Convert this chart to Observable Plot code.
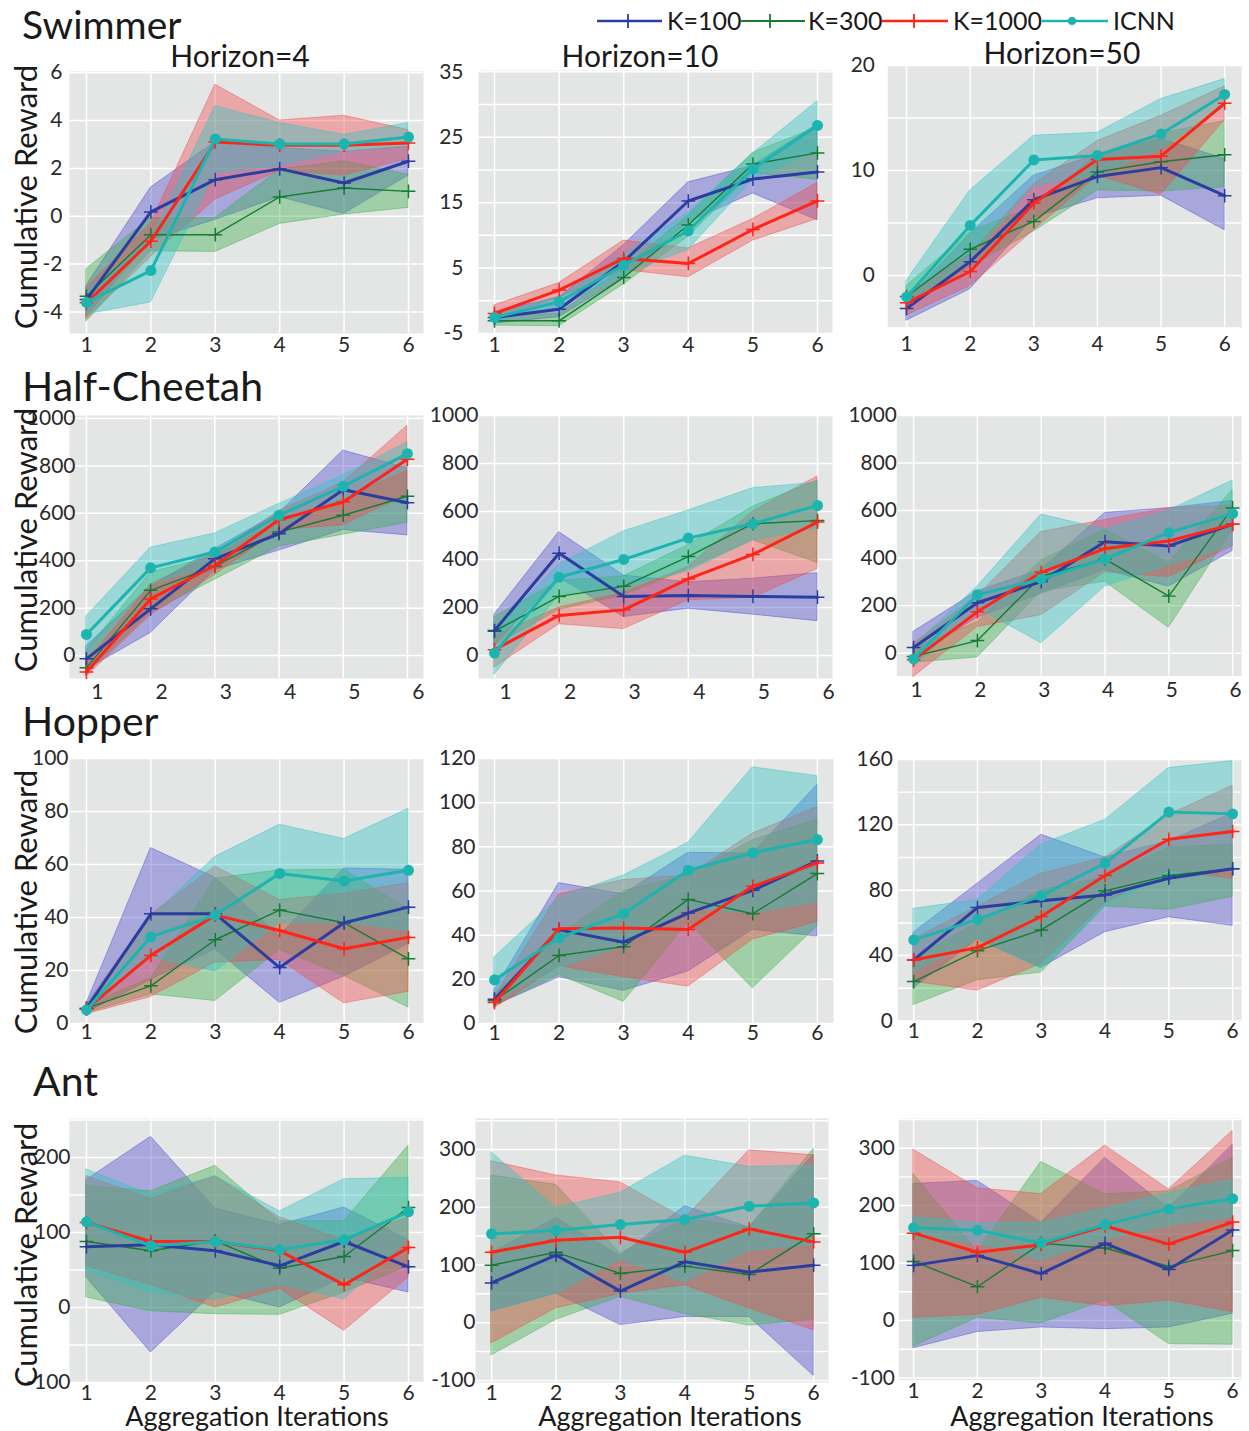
<!DOCTYPE html>
<html><head><meta charset="utf-8">
<script src="https://cdn.jsdelivr.net/npm/d3@7"></script>
<script src="https://cdn.jsdelivr.net/npm/@observablehq/plot@0.6"></script>
<style>
html,body{margin:0;padding:0;background:#fff;}
body{width:1249px;height:1431px;overflow:hidden;position:relative;font-family:Lato,"Open Sans",sans-serif;}
.panel{position:absolute;}
#overlay{position:absolute;left:0;top:0;pointer-events:none;}
</style></head>
<body>
<script>
// ---------------- DATA ----------------
const iterations = [1, 2, 3, 4, 5, 6];
const seriesNames = ["K=100", "K=300", "K=1000", "ICNN"];
const environments = ["Swimmer", "Half-Cheetah", "Hopper", "Ant"];
const horizons = [4, 10, 50];
const yTickLabels = [
  [[-4, -2, 0, 2, 4, 6], [-5, 5, 15, 25, 35], [0, 10, 20]],
  [[0, 200, 400, 600, 800, 1000], [0, 200, 400, 600, 800, 1000], [0, 200, 400, 600, 800, 1000]],
  [[0, 20, 40, 60, 80, 100], [0, 20, 40, 60, 80, 100, 120], [0, 40, 80, 120, 160]],
  [[-100, 0, 100, 200], [-100, 0, 100, 200, 300], [-100, 0, 100, 200, 300]]
];
const yGridValues = [
  [[-4, -2, 0, 2, 4, 6], [-5, 0, 5, 10, 15, 20, 25, 30, 35], [-5, 0, 5, 10, 15, 20]],
  [[0, 200, 400, 600, 800, 1000], [0, 200, 400, 600, 800, 1000], [0, 200, 400, 600, 800, 1000]],
  [[0, 20, 40, 60, 80, 100], [0, 20, 40, 60, 80, 100, 120], [0, 20, 40, 60, 80, 100, 120, 140, 160]],
  [[-100, -50, 0, 50, 100, 150, 200, 250], [-100, -50, 0, 50, 100, 150, 200, 250, 300, 350], [-100, -50, 0, 50, 100, 150, 200, 250, 300, 350]]
];

// rows in each array follow seriesNames: K=100, K=300, K=1000, ICNN
const swimmer4_mean = [[-3.48, 0.18, 1.53, 1.98, 1.39, 2.3], [-3.34, -0.77, -0.77, 0.81, 1.18, 1.04], [-3.62, -1.04, 3.1, 2.97, 2.97, 3.06], [-3.6, -2.27, 3.23, 3.02, 3.02, 3.31]];
const swimmer4_lo = [[-4.2, -1.0, -0.15, 0.8, 0.1, 1.7], [-4.4, -1.46, -1.49, -0.32, 0.07, 0.35], [-4.3, -1.7, 0.7, 1.9, 1.7, 2.4], [-4.1, -3.6, 1.8, 2.1, 2.7, 2.9]];
const swimmer4_hi = [[-2.9, 1.2, 3.1, 2.85, 2.7, 2.9], [-2.2, -0.07, -0.07, 1.95, 2.3, 1.74], [-3.0, -0.3, 5.5, 4.0, 4.2, 3.6], [-3.1, -1.0, 4.6, 3.9, 3.4, 3.9]];

const swimmer10_mean = [[-2.55, -1.3, 6.0, 15.25, 18.6, 19.7], [-3.06, -3.06, 3.57, 11.6, 20.9, 22.6], [-1.94, 1.63, 6.48, 5.7, 10.9, 15.26], [-2.55, -0.15, 5.45, 10.7, 20.15, 26.8]];
const swimmer10_lo = [[-3.5, -2.5, 3.5, 12, 16.4, 12.3], [-3.8, -3.9, 2.5, 9.8, 19.5, 18.5], [-3.0, 0.5, 4.7, 3.6, 9.2, 12.5], [-3.2, -1.0, 4.0, 7.8, 18.5, 23]];
const swimmer10_hi = [[-1.7, 0.5, 8.5, 18.1, 20.6, 27], [-2.3, -2.0, 5.0, 13, 22.6, 26.5], [-0.7, 2.7, 9.2, 8.0, 12.5, 18.0], [-1.9, 0.6, 7.0, 13.5, 22.5, 30.5]];

const swimmer50_mean = [[-3.14, 1.32, 7.22, 9.42, 10.27, 7.6], [-2.0, 2.5, 5.15, 9.86, 10.83, 11.5], [-2.6, 0.38, 6.9, 11.05, 11.36, 16.4], [-2.04, 4.77, 11.0, 11.43, 13.47, 17.24]];
const swimmer50_lo = [[-4.3, -1.3, 5.5, 7.35, 7.6, 4.3], [-3.0, 0.8, 4.2, 8.1, 8.0, 8.4], [-3.8, -1.0, 4.3, 9.5, 7.7, 14.8], [-2.8, 1.5, 8.5, 9.5, 12, 16]];
const swimmer50_hi = [[-2.4, 4.0, 9.5, 11.5, 13, 11.1], [-1.0, 4.2, 6.5, 11.5, 13.5, 14.7], [-1.8, 2.0, 8.7, 12.8, 15.2, 18.0], [-0.5, 8.1, 13.3, 13.6, 16.8, 18.7]];

const cheetah4_mean = [[-14, 197, 408, 514, 700, 645], [-52, 275, 376, 521, 592, 672], [-70, 239, 380, 573, 648, 828], [89, 370, 437, 592, 714, 852]];
const cheetah4_lo = [[-60, 95, 360, 443, 530, 507], [-80, 180, 320, 460, 510, 560], [-90, 170, 340, 530, 550, 680], [20, 300, 380, 540, 660, 790]];
const cheetah4_hi = [[40, 290, 450, 600, 865, 790], [20, 350, 420, 570, 660, 780], [-30, 300, 430, 610, 730, 970], [165, 455, 515, 640, 760, 900]];

const cheetah10_mean = [[104, 426, 246, 250, 246, 243], [101, 246, 288, 412, 549, 562], [24, 167, 190, 319, 421, 556], [10, 326, 400, 489, 549, 625]];
const cheetah10_lo = [[40, 326, 160, 195, 170, 143], [40, 190, 250, 360, 480, 386], [-50, 130, 110, 230, 240, 360], [-80, 250, 290, 350, 480, 530]];
const cheetah10_hi = [[171, 514, 333, 305, 320, 343], [160, 310, 330, 460, 620, 729], [80, 200, 260, 370, 600, 746], [100, 380, 517, 604, 697, 720]];

const cheetah50_mean = [[24, 212, 301, 469, 451, 542], [-14, 53, 324, 396, 240, 611], [-28, 174, 340, 440, 472, 542], [-24, 246, 312, 396, 507, 587]];
const cheetah50_lo = [[-20, 150, 250, 350, 280, 430], [-40, -18, 260, 300, 107, 520], [-100, 110, 160, 340, 320, 450], [-60, 190, 42, 280, 370, 450]];
const cheetah50_hi = [[90, 260, 350, 590, 610, 640], [20, 130, 390, 520, 380, 687], [40, 240, 510, 560, 610, 620], [30, 280, 583, 520, 600, 726]];

const hopper4_mean = [[5.7, 41.4, 41.4, 21.1, 38, 43.9], [5.7, 14.2, 31.6, 42.8, 38, 24.4], [5.4, 25.7, 40.9, 35.1, 28.2, 32.5], [5.1, 32.7, 40.9, 56.6, 53.8, 57.8]];
const hopper4_lo = [[4, 16.5, 28, 7.8, 17.7, 30], [4, 11, 8.5, 27.8, 18, 6], [3.5, 10, 23, 24, 7.6, 12], [4, 25, 19.6, 38, 38, 35]];
const hopper4_hi = [[7.5, 66.2, 55, 33, 58.5, 58], [7, 17, 54.7, 57.8, 58, 43], [7, 41, 59.2, 46.6, 49, 53], [7, 40, 62.9, 75, 69.6, 81]];

const hopper10_mean = [[11, 42.4, 36.8, 50, 60.3, 73.6], [10.3, 30.8, 34.8, 56.2, 49.7, 67.9], [9.5, 42.9, 43.3, 42.6, 62.1, 72.7], [19.8, 38.8, 49.7, 69.4, 77.3, 83.3]];
const hopper10_lo = [[8, 20.9, 14.8, 23.6, 42.4, 39.4], [8, 22, 9.8, 45.9, 16, 44], [7, 26, 21, 16.7, 38, 46], [10, 25, 35, 52, 50, 55]];
const hopper10_hi = [[15, 63.6, 58.5, 77.3, 77, 108], [13, 40, 60, 67, 83, 92.4], [12, 58.5, 65, 67, 86, 98], [30, 57, 67, 81.8, 116, 112]];

const hopper50_mean = [[37.3, 69.4, 73.5, 77.1, 87.3, 93.1], [24.1, 43, 55.7, 79.6, 89, 93.1], [37.3, 44.9, 63.9, 89, 111.2, 115.9], [49.6, 62.2, 76.7, 96.5, 127.8, 126.7]];
const hopper50_lo = [[20, 50, 32.6, 54.3, 63.5, 58.2], [9.8, 25, 29.6, 70, 68, 76], [24, 18.6, 35, 72, 92, 87], [30, 50, 32, 70, 90, 92]];
const hopper50_hi = [[54, 84, 113.9, 100, 110, 127], [38, 60, 80, 88, 106, 108], [50, 70, 90, 100, 126, 143.9], [68.6, 74, 108, 123, 154.7, 159]];

const ant4_mean = [[81, 83.6, 75.6, 55.6, 88, 54.2], [88, 75.6, 88.9, 52.4, 68, 133.3], [113.3, 88, 88, 75.6, 30.2, 80], [114.2, 82.2, 88, 76.9, 90.2, 127.6]];
const ant4_lo = [[40, -60, 21.3, 0, 40, 20], [13.3, -5, -8.9, -9.8, 20, 55], [55, 30, 0, 25, -31, 40], [50, 20, 10, 30, 11, 90]];
const ant4_hi = [[170, 227.6, 132, 110, 133.3, 90], [162, 155, 188.9, 115, 115, 215.6], [175, 145, 175, 120, 90, 120], [184, 150, 175, 128, 171, 173]];

const ant10_mean = [[69, 117, 54.8, 105.5, 87.6, 99.7], [99.7, 122, 85.3, 98, 83.6, 153.9], [122, 143, 148, 122, 162.5, 140], [153.9, 159.7, 170, 178.7, 201.7, 207.5]];
const ant10_lo = [[20, 50.7, -4, 10, 10, -92], [-56.5, 5, 45, 15, -5, 5], [-35.7, 25, 50, 65, 25, -13], [20, 50, 110, 70, 125, 135]];
const ant10_hi = [[120, 181.6, 115, 201.7, 165, 291], [254.8, 239, 120, 180, 165, 300.9], [279.5, 255, 243, 180, 298.6, 290], [295, 198.8, 225, 289.3, 270, 272]];

const ant50_mean = [[96, 113, 81.7, 134.3, 89, 157.7], [102.9, 58.9, 134.3, 126.3, 94.3, 121.7], [152, 118.9, 132, 164.6, 133, 171.4], [161.7, 157, 135, 167, 194.3, 212]];
const ant50_lo = [[-48, -20, -12, -15, -12, 12], [-45, 5, -5, 35, -41, -42], [5, 10, 40, 25, 35, 15], [145, 135, 105, 140, 165, 180]];
const ant50_hi = [[237.7, 243, 170, 283, 195, 306], [255, 120, 276, 220, 225, 283], [297, 230, 220, 304.6, 228, 330], [180, 170, 170, 195, 222, 245]];

const panelData = [
  [[swimmer4_mean, swimmer4_lo, swimmer4_hi], [swimmer10_mean, swimmer10_lo, swimmer10_hi], [swimmer50_mean, swimmer50_lo, swimmer50_hi]],
  [[cheetah4_mean, cheetah4_lo, cheetah4_hi], [cheetah10_mean, cheetah10_lo, cheetah10_hi], [cheetah50_mean, cheetah50_lo, cheetah50_hi]],
  [[hopper4_mean, hopper4_lo, hopper4_hi], [hopper10_mean, hopper10_lo, hopper10_hi], [hopper50_mean, hopper50_lo, hopper50_hi]],
  [[ant4_mean, ant4_lo, ant4_hi], [ant10_mean, ant10_lo, ant10_hi], [ant50_mean, ant50_lo, ant50_hi]]
];

// ---------------- LAYOUT / STYLE ----------------
const lineColors = ["#2b3d9f", "#177a35", "#ff2418", "#1db4b0"];
const bandColors = ["#4b4bd0", "#3aae4a", "#f04a4a", "#2ec4c0"];
const lineWidths = [3, 1.4, 3, 3];
const drawOrder = [1, 0, 2, 3];

// plot frames [x0, x1, y0, y1] in page pixels
const frames = [
  [[69, 423, 71, 333], [478, 832, 70, 333], [888, 1245, 65, 330]],
  [[69, 423, 415, 678], [478, 832, 415, 678], [897, 1245, 415, 678]],
  [[69, 423, 758, 1023], [478, 833, 758, 1023], [898, 1245, 759, 1023]],
  [[69, 423, 1118, 1382], [475, 828, 1118, 1382], [899, 1245, 1118, 1382]]
];
const xDomains = [
  [[0.736, 6.233], [0.752, 6.232], [0.704, 6.265]],
  [[0.736, 6.25], [0.752, 6.232], [0.736, 6.14]],
  [[0.736, 6.233], [0.752, 6.25], [0.75, 6.14]],
  [[0.736, 6.233], [0.75, 6.23], [0.767, 6.14]]
];
const yDomains = [
  [[-4.9, 6.05], [-5, 35.2], [-5, 20]],
  [[-97, 1013], [-96, 1000], [-96, 1000]],
  [[0, 100], [0, 120], [0, 160]],
  [[-100, 252], [-103.5, 353.7], [-103.4, 351.7]]
];
const yPads = [[7, 15, 13], [-6, 0, 0], [1, 3, 5], [-1, 0, 4]];
const xPads = [[4, 4, 8], [6, 6, 6], [1, 2, 2], [3, 3, 3]];
const xDx = [[0, 0, 0], [11, 11, 3], [0, 0, 0], [0, 0, 0]];

const ML = 80, MR = 8, MT = 8, MB = 44;

function makePanel(r, c) {
  const [mean, lo, hi] = panelData[r][c];
  const [fx0, fx1, fy0, fy1] = frames[r][c];
  const rows = seriesNames.map((s, si) => iterations.map((it, i) => ({series: s, it, mean: mean[si][i], lo: lo[si][i], hi: hi[si][i]})));
  const marks = [
    Plot.frame({fill: "#e4e5e5", stroke: null}),
    Plot.gridX(iterations, {stroke: "#ffffff", strokeOpacity: 1, strokeWidth: 1.5}),
    Plot.gridY(yGridValues[r][c], {stroke: "#ffffff", strokeOpacity: 1, strokeWidth: 1.5})
  ];
  seriesNames.forEach((s, si) => {
    marks.push(Plot.areaY(rows[si], {x: "it", y1: "lo", y2: "hi", fill: bandColors[si], fillOpacity: 0.4, stroke: bandColors[si], strokeOpacity: 0.45, strokeWidth: 1}));
  });
  drawOrder.forEach(si => {
    marks.push(Plot.lineY(rows[si], {x: "it", y: "mean", stroke: lineColors[si], strokeWidth: lineWidths[si]}));
    if (si === 3) {
      marks.push(Plot.dot(rows[si], {x: "it", y: "mean", r: 5.5, fill: lineColors[si], stroke: null}));
    } else {
      marks.push(Plot.dot(rows[si], {x: "it", y: "mean", symbol: "plus", r: 4.5, stroke: lineColors[si], strokeWidth: 1.5}));
    }
  });
  marks.push(Plot.axisX(iterations, {tickSize: 0, tickPadding: xPads[r][c], dx: xDx[r][c], tickFormat: d => String(d), label: null, fontSize: 21}));
  marks.push(Plot.axisY(yTickLabels[r][c], {tickSize: 0, tickPadding: yPads[r][c], tickFormat: d => String(d), label: null, fontSize: 21}));

  const svg = Plot.plot({
    width: fx1 - fx0 + ML + MR,
    height: fy1 - fy0 + MT + MB,
    marginLeft: ML, marginRight: MR, marginTop: MT, marginBottom: MB,
    style: {background: "transparent", fontFamily: "Lato, 'Open Sans', sans-serif", fontSize: "21px", color: "#2a2a2a", overflow: "visible"},
    x: {domain: xDomains[r][c], label: null},
    y: {domain: yDomains[r][c], label: null},
    marks
  });
  const div = document.createElement("div");
  div.className = "panel";
  div.style.left = (fx0 - ML) + "px";
  div.style.top = (fy0 - MT) + "px";
  div.appendChild(svg);
  document.body.appendChild(div);
}

for (let r = 0; r < 4; r++) for (let c = 0; c < 3; c++) makePanel(r, c);

// ---------------- TEXT OVERLAY ----------------
const titlePos = [[22, 39], [22, 401], [22, 736], [33, 1096]];
const horizonPos = [[240, 67], [640, 67], [1062, 64]];
const yLabelPos = [[37, 197], [37, 540], [37, 902], [37, 1255]];
const xLabelPos = [[257, 1426], [670, 1426], [1082, 1426]];
const legendPos = [[597, 662, 628, 667], [740, 805, 770, 808], [882, 948, 914, 953], [1042, 1108, 1072, 1113]];

const NS = "http://www.w3.org/2000/svg";
const ov = document.createElementNS(NS, "svg");
ov.setAttribute("id", "overlay");
ov.setAttribute("width", 1249);
ov.setAttribute("height", 1431);
ov.style.fontFamily = "Lato, 'Open Sans', sans-serif";
document.body.appendChild(ov);
function txt(s, x, y, size, anchor, extra) {
  const t = document.createElementNS(NS, "text");
  t.setAttribute("x", x); t.setAttribute("y", y);
  t.setAttribute("font-size", size);
  t.setAttribute("fill", "#1a1a1a");
  t.setAttribute("text-anchor", anchor || "start");
  if (extra) for (const k in extra) t.setAttribute(k, extra[k]);
  t.textContent = s;
  ov.appendChild(t);
  return t;
}
environments.forEach((e, i) => txt(e, titlePos[i][0], titlePos[i][1], i === 0 ? 39 : 41));
horizons.forEach((h, i) => txt("Horizon=" + h, horizonPos[i][0], horizonPos[i][1], 30, "middle"));
yLabelPos.forEach(([x, y]) => txt("Cumulative Reward", 0, 0, 31, "middle", {transform: `translate(${x},${y}) rotate(-90)`}));
xLabelPos.forEach(([x, y]) => txt("Aggregation Iterations", x, y, 27, "middle"));
seriesNames.forEach((s, i) => {
  const [l0, l1, mx, tx] = legendPos[i];
  const ln = document.createElementNS(NS, "line");
  ln.setAttribute("x1", l0); ln.setAttribute("x2", l1);
  ln.setAttribute("y1", 21); ln.setAttribute("y2", 21);
  ln.setAttribute("stroke", lineColors[i]); ln.setAttribute("stroke-width", i === 1 ? 2 : 2.5);
  ov.appendChild(ln);
  if (i === 3) {
    const c = document.createElementNS(NS, "circle");
    c.setAttribute("cx", mx); c.setAttribute("cy", 21); c.setAttribute("r", 4);
    c.setAttribute("fill", lineColors[i]);
    ov.appendChild(c);
  } else {
    const p = document.createElementNS(NS, "path");
    p.setAttribute("d", `M${mx - 7},21H${mx + 7}M${mx},14V28`);
    p.setAttribute("stroke", lineColors[i]); p.setAttribute("stroke-width", 1.8);
    ov.appendChild(p);
  }
  txt(s, tx, 30, 25);
});
</script>
</body></html>
